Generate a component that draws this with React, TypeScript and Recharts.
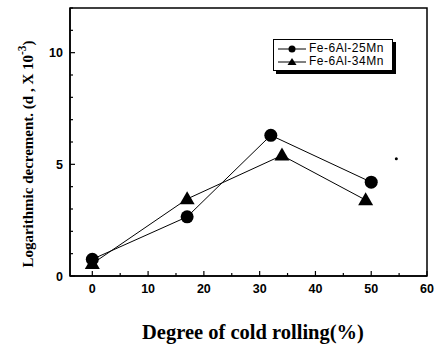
import React from 'react';
import { ComposedChart, Line, XAxis, YAxis, ReferenceArea, Legend } from 'recharts';

// Fe-6Al-25Mn (circles)
const rollingA = [0, 17, 32, 50];
const decrementA = [0.75, 2.65, 6.3, 4.2];
// Fe-6Al-34Mn (triangles)
const rollingB = [0, 17, 34, 49];
const decrementB = [0.55, 3.45, 5.4, 3.4];
// stray speck in the scan
const strayX = [54.5];
const strayY = [5.25];

const seriesNames = ['Fe-6Al-25Mn', 'Fe-6Al-34Mn'];
const xTicks = [0, 5, 10, 15, 20, 25, 30, 35, 40, 45, 50, 55, 60];
const xMajor = [0, 10, 20, 30, 40, 50, 60];
const yTicks = [0, 1, 2, 3, 4, 5, 6, 7, 8, 9, 10, 11, 12];
const yMajor = [0, 5, 10];
const xDomain = [-4, 60];
const yDomain = [0, 12];

const dataA = rollingA.map((x, i) => ({ x, y: decrementA[i] }));
const dataB = rollingB.map((x, i) => ({ x, y: decrementB[i] }));
const dataStray = strayX.map((x, i) => ({ x, y: strayY[i] }));

const tickFont = { fontFamily: 'Arial, "Liberation Sans", sans-serif', fontWeight: 'bold' as const, fontSize: 12.5 };
const serif = '"Liberation Serif", "Times New Roman", serif';

const XTick = (props: any) => {
  const { x, y, payload } = props;
  const v = payload.value;
  const major = xMajor.includes(v);
  return (
    <g>
      <line x1={x} x2={x} y1={y} y2={y - (major ? 5 : 3)} stroke="#000" strokeWidth={1.2} />
      {major && (
        <text x={x} y={y + 17} textAnchor="middle" fill="#000" {...tickFont}>
          {v}
        </text>
      )}
    </g>
  );
};

const YTick = (props: any) => {
  const { x, y, payload } = props;
  const v = payload.value;
  const major = yMajor.includes(v);
  return (
    <g>
      <line x1={x} x2={x + (major ? 5 : 3)} y1={y} y2={y} stroke="#000" strokeWidth={1.2} />
      {major && (
        <text x={x - 7} y={y + 4.5} textAnchor="end" fill="#000" {...tickFont}>
          {v}
        </text>
      )}
    </g>
  );
};

const CircleDot = (props: any) => {
  const { cx, cy } = props;
  if (cx == null || cy == null) return null;
  return <circle cx={cx} cy={cy} r={6.5} fill="#000" />;
};

const TriangleDot = (props: any) => {
  const { cx, cy } = props;
  if (cx == null || cy == null) return null;
  const s = 15;
  const h = 13;
  return (
    <polygon
      points={`${cx},${cy - h * 0.6} ${cx - s / 2},${cy + h * 0.4} ${cx + s / 2},${cy + h * 0.4}`}
      fill="#000"
    />
  );
};

const StrayDot = (props: any) => {
  const { cx, cy } = props;
  if (cx == null || cy == null) return null;
  return <circle cx={cx} cy={cy} r={1.5} fill="#000" />;
};

const LegendBox = () => (
  <div
    style={{
      border: '1px solid #000',
      boxShadow: '3px 3px 0 #000',
      background: '#fff',
      padding: '2px 4px 2px 4px',
      fontFamily: 'Arial, "Liberation Sans", sans-serif',
      fontSize: 12,
      lineHeight: '13px',
      letterSpacing: 0.5,
      color: '#000',
      width: 110,
    }}
  >
    {seriesNames.map((name, i) => (
      <div key={name} style={{ display: 'flex', alignItems: 'center', whiteSpace: 'nowrap' }}>
        <svg width={28} height={12} style={{ marginRight: 3 }}>
          <line x1={0} x2={28} y1={6} y2={6} stroke="#000" strokeWidth={1} />
          {i === 0 ? (
            <circle cx={14} cy={6} r={3.5} fill="#000" />
          ) : (
            <polygon points="14,2 9.5,9 18.5,9" fill="#000" />
          )}
        </svg>
        <span>{name}</span>
      </div>
    ))}
  </div>
);

export default function App() {
  return (
    <div style={{ position: 'absolute', left: 0, top: 0, background: '#fff' }}>
      <ComposedChart width={440} height={351} margin={{ top: 8, right: 13, left: 0, bottom: 0 }}>
        <XAxis
          type="number"
          dataKey="x"
          domain={xDomain}
          ticks={xTicks}
          interval={0}
          allowDataOverflow
          height={75}
          tickSize={0}
          tickMargin={0}
          tickLine={false}
          axisLine={{ stroke: '#000', strokeWidth: 1.5 }}
          tick={<XTick />}
          label={{
            content: () => (
              <text
                x={253}
                y={339}
                textAnchor="middle"
                fontFamily={serif}
                fontWeight="bold"
                fontSize={20.5}
                fill="#000"
              >
                Degree of cold rolling(%)
              </text>
            ),
          }}
        />
        <YAxis
          type="number"
          dataKey="y"
          domain={yDomain}
          ticks={yTicks}
          interval={0}
          allowDataOverflow
          width={70}
          tickSize={0}
          tickMargin={0}
          tickLine={false}
          axisLine={{ stroke: '#000', strokeWidth: 1.5 }}
          tick={<YTick />}
          label={{
            content: () => (
              <text
                x={33}
                y={154}
                transform="rotate(-90 33 154)"
                textAnchor="middle"
                fontFamily={serif}
                fontWeight="bold"
                fontSize={15}
                fill="#000"
              >
                <tspan>Logarithmic decrement. (d , X 10</tspan>
                <tspan dy={-7} fontSize={11.5}>-3</tspan>
                <tspan dy={7}>)</tspan>
              </text>
            ),
          }}
        />
        <ReferenceArea
          x1={xDomain[0]}
          x2={xDomain[1]}
          y1={yDomain[0]}
          y2={yDomain[1]}
          fill="none"
          stroke="#000"
          strokeWidth={1.5}
          ifOverflow="visible"
        />
        <Legend
          layout="horizontal"
          verticalAlign="middle"
          align="center"
          content={() => <LegendBox />}
          wrapperStyle={{ top: 39, left: 273, width: 'auto' }}
        />
        <Line
          data={dataB}
          dataKey="y"
          name={seriesNames[1]}
          stroke="#000"
          strokeWidth={1}
          dot={<TriangleDot />}
          activeDot={false}
          isAnimationActive={false}
          legendType="none"
        />
        <Line
          data={dataA}
          dataKey="y"
          name={seriesNames[0]}
          stroke="#000"
          strokeWidth={1}
          dot={<CircleDot />}
          activeDot={false}
          isAnimationActive={false}
          legendType="none"
        />
        <Line
          data={dataStray}
          dataKey="y"
          stroke="none"
          dot={<StrayDot />}
          activeDot={false}
          isAnimationActive={false}
          legendType="none"
        />
      </ComposedChart>
    </div>
  );
}
